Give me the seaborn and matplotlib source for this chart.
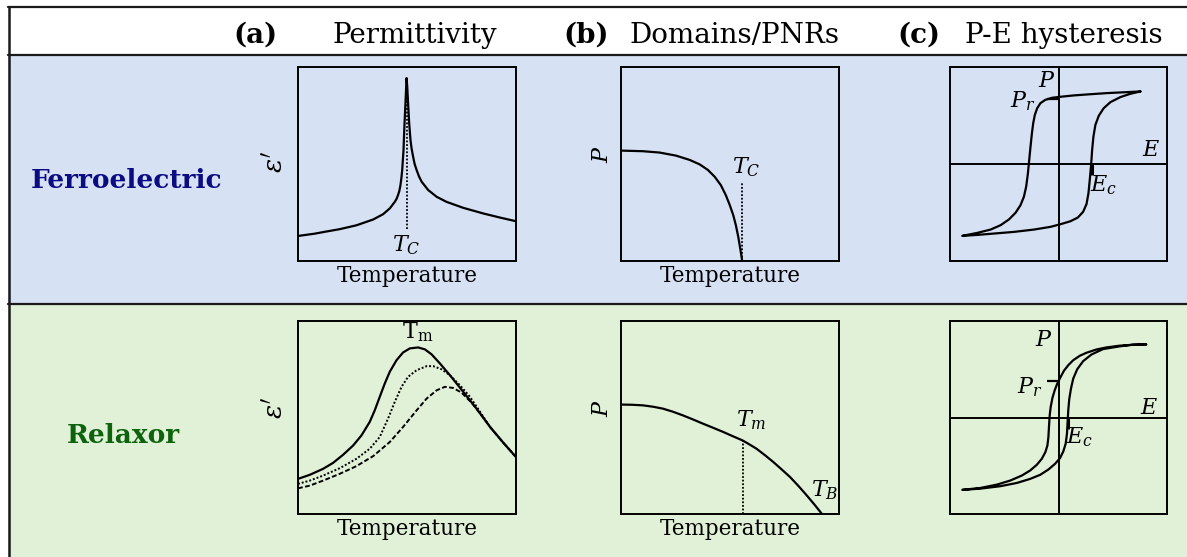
import matplotlib
matplotlib.use("Agg")
import matplotlib.pyplot as plt
from matplotlib.patches import Rectangle
from matplotlib.lines import Line2D
import seaborn as sns

sns.set_style("white")
plt.rcParams["font.family"] = ["DejaVu Serif"]
plt.rcParams["mathtext.fontset"] = "dejavuserif"
plt.rcParams["text.color"] = "black"
plt.rcParams["axes.labelcolor"] = "black"

# ---------------- data (normalised schematic coordinates) ----------------
row_labels = ["Ferroelectric", "Relaxor"]
col_tags = ["(a)", "(b)", "(c)"]
col_titles = ["Permittivity", "Domains/PNRs", "P-E hysteresis"]

# (a) ferroelectric: sharp permittivity peak at T_C
fe_eps_T = [0.0, 0.077, 0.13, 0.191, 0.268, 0.345, 0.39, 0.421, 0.444, 0.452,
            0.459, 0.465, 0.47, 0.474, 0.478, 0.484, 0.488, 0.493, 0.498, 0.501,
            0.505, 0.51, 0.516, 0.521, 0.528, 0.535, 0.544, 0.555, 0.567, 0.597,
            0.636, 0.681, 0.758, 0.85, 0.926, 1.0]
fe_eps = [0.129, 0.141, 0.152, 0.164, 0.184, 0.214, 0.241, 0.271, 0.305, 0.32,
          0.34, 0.362, 0.391, 0.425, 0.469, 0.572, 0.693, 0.814, 0.943, 0.9,
          0.814, 0.71, 0.624, 0.58, 0.538, 0.5, 0.469, 0.436, 0.409, 0.366,
          0.331, 0.305, 0.274, 0.245, 0.224, 0.205]
fe_TC = 0.498
fe_TC_line = [0.167, 0.943]

# (a) relaxor: broad, frequency dispersive maxima (three frequencies)
rx_eps_T1 = [0.0, 0.054, 0.115, 0.161, 0.207, 0.253, 0.291, 0.329, 0.352, 0.375,
             0.398, 0.421, 0.452, 0.482, 0.513, 0.551, 0.582, 0.613, 0.651, 0.697,
             0.758, 0.819, 0.881, 0.942, 1.0]
rx_eps_1 = [0.182, 0.203, 0.234, 0.265, 0.307, 0.355, 0.407, 0.477, 0.537, 0.607,
            0.676, 0.737, 0.797, 0.837, 0.858, 0.863, 0.853, 0.827, 0.78, 0.719,
            0.633, 0.546, 0.451, 0.369, 0.295]
rx_eps_T2 = [0.0, 0.054, 0.115, 0.191, 0.268, 0.329, 0.375, 0.413, 0.444, 0.475,
             0.505, 0.544, 0.59, 0.62, 0.658, 0.697, 0.743, 0.789, 0.835, 0.881,
             0.942, 1.0]
rx_eps_2 = [0.156, 0.173, 0.199, 0.237, 0.286, 0.338, 0.399, 0.494, 0.581, 0.659,
            0.711, 0.745, 0.766, 0.766, 0.75, 0.719, 0.667, 0.607, 0.53, 0.451,
            0.369, 0.295]
rx_eps_T3 = [0.0, 0.054, 0.115, 0.191, 0.268, 0.345, 0.421, 0.482, 0.544, 0.59,
             0.636, 0.674, 0.712, 0.75, 0.796, 0.842, 0.881, 0.942, 1.0]
rx_eps_3 = [0.133, 0.147, 0.173, 0.208, 0.248, 0.3, 0.373, 0.451, 0.537, 0.598,
            0.641, 0.659, 0.653, 0.629, 0.577, 0.511, 0.451, 0.369, 0.295]
rx_Tm_peak = 0.551

# (b) ferroelectric: polarisation vanishing at T_C
fe_P_T = [0.0, 0.1, 0.177, 0.253, 0.315, 0.361, 0.399, 0.43, 0.458, 0.481, 0.499,
          0.515, 0.527, 0.538, 0.547, 0.556]
fe_P = [0.569, 0.566, 0.559, 0.543, 0.521, 0.498, 0.469, 0.434, 0.391, 0.339, 0.288,
        0.236, 0.184, 0.124, 0.064, 0.0]
fe_P_TC = 0.556
fe_P_TC_top = 0.4

# (b) relaxor: PNR polarisation decaying up to the Burns temperature
rx_P_T = [0.0, 0.05, 0.1, 0.146, 0.192, 0.238, 0.284, 0.33, 0.376, 0.422,
          0.469, 0.513, 0.558, 0.59, 0.622, 0.66, 0.699, 0.737, 0.776, 0.815,
          0.853, 0.888, 0.922]
rx_P = [0.567, 0.566, 0.563, 0.556, 0.546, 0.53, 0.511, 0.49, 0.468, 0.447,
        0.425, 0.403, 0.381, 0.36, 0.338, 0.305, 0.269, 0.231, 0.191, 0.144,
        0.095, 0.048, 0.0]
rx_P_Tm = 0.558
rx_P_Tm_top = 0.381

# (c) ferroelectric: square P-E loop (descending branch, then ascending branch)
fe_loop_E = [0.755, 0.632, 0.448, 0.264, 0.141, 0.018, -0.058, -0.12, -0.166, -0.196,
             -0.218, -0.233, -0.245, -0.258, -0.27, -0.282, -0.298, -0.319, -0.35,
             -0.396, -0.457, -0.534, -0.626, -0.748, -0.887,
             -0.748, -0.595, -0.411, -0.227, -0.074, 0.018, 0.11, 0.178, 0.227, 0.258,
             0.276, 0.288, 0.301, 0.31, 0.322, 0.34, 0.371, 0.417, 0.479, 0.571,
             0.663, 0.755]
fe_loop_P = [0.748, 0.741, 0.731, 0.717, 0.707, 0.693, 0.683, 0.662, 0.628, 0.576,
             0.507, 0.421, 0.317, 0.179, 0.041, -0.097, -0.234, -0.338, -0.424,
             -0.503, -0.572, -0.631, -0.676, -0.71, -0.741,
             -0.731, -0.717, -0.7, -0.676, -0.648, -0.621, -0.59, -0.552, -0.493,
             -0.414, -0.303, -0.166, -0.003, 0.145, 0.283, 0.403, 0.497, 0.576,
             0.638, 0.69, 0.724, 0.748]
fe_Pr = 0.672
fe_Ec = 0.31

# (c) relaxor: slim P-E loop
rx_loop_E = [0.808, 0.685, 0.563, 0.441, 0.35, 0.258, 0.197, 0.136, 0.09, 0.05, 0.02,
             -0.011, -0.035, -0.056, -0.072, -0.081, -0.087, -0.093, -0.102, -0.121,
             -0.154, -0.2, -0.261, -0.337, -0.444, -0.566, -0.719, -0.887,
             -0.719, -0.536, -0.383, -0.261, -0.169, -0.093, -0.032, 0.014, 0.044,
             0.066, 0.078, 0.084, 0.09, 0.099, 0.115, 0.136, 0.173, 0.227, 0.304,
             0.411, 0.563, 0.685, 0.808]
rx_loop_P = [0.757, 0.754, 0.744, 0.726, 0.705, 0.671, 0.64, 0.594, 0.542, 0.484, 0.421,
             0.352, 0.282, 0.203, 0.109, 0.023, -0.081, -0.203, -0.289, -0.359,
             -0.428, -0.49, -0.549, -0.601, -0.653, -0.695, -0.73, -0.75,
             -0.737, -0.712, -0.678, -0.636, -0.594, -0.539, -0.48, -0.421, -0.352,
             -0.272, -0.168, -0.047, 0.075, 0.189, 0.3, 0.404, 0.501, 0.584, 0.653,
             0.709, 0.737, 0.754, 0.757]
rx_Pr = 0.38
rx_Ec = 0.084

# ---------------- layout ----------------
W, H = 1187, 557
fig = plt.figure(figsize=(W / 100, H / 100), dpi=100)
fig.patch.set_facecolor("white")


def fx(px):
    return px / W


def fy(py):
    return 1 - py / H


BLUE_BG = "#d6e1f3"
GREEN_BG = "#e1f1d8"
LINE = "#1a1a1a"

# background bands
fig.add_artist(Rectangle((fx(8), fy(304)), 1, (304 - 55) / H, transform=fig.transFigure,
                         facecolor=BLUE_BG, edgecolor="none", zorder=0))
fig.add_artist(Rectangle((fx(8), 0), 1, fy(304), transform=fig.transFigure,
                         facecolor=GREEN_BG, edgecolor="none", zorder=0))
# frame lines
for y in (7, 55, 304):
    fig.add_artist(Line2D([fx(8), 1.0], [fy(y), fy(y)], transform=fig.transFigure,
                          color=LINE, lw=1.6, zorder=1))
fig.add_artist(Line2D([fx(8.5), fx(8.5)], [0, fy(7)], transform=fig.transFigure,
                      color=LINE, lw=1.8, zorder=1))

# column headers
tag_x = [255, 586, 919]
title_x = [415, 734, 1064]
for tag, title, tx, tt in zip(col_tags, col_titles, tag_x, title_x):
    fig.text(fx(tx), fy(43), tag, ha="center", va="baseline", fontsize=20,
             fontweight="bold")
    fig.text(fx(tt), fy(43), title, ha="center", va="baseline", fontsize=20)

# row labels
fig.text(fx(127), fy(188), row_labels[0], ha="center", va="baseline", fontsize=19,
         fontweight="bold", color="#0b0b84")
fig.text(fx(123), fy(443), row_labels[1], ha="center", va="baseline", fontsize=19,
         fontweight="bold", color="#0c630c")

col_left = [298, 621, 950]
col_w = [218, 218, 217]
row_tb = [(67, 261), (321, 514)]

axes = {}
for r, (top, bot) in enumerate(row_tb):
    for c in range(3):
        ax = fig.add_axes([fx(col_left[c]), fy(bot), col_w[c] / W, (bot - top) / H])
        ax.set_facecolor("none")
        for s in ax.spines.values():
            s.set_visible(True)
            s.set_color("black")
            s.set_linewidth(1.4)
        ax.set_xticks([])
        ax.set_yticks([])
        if c < 2:
            ax.set_xlim(0, 1)
            ax.set_ylim(0, 1)
            ax.set_xlabel("Temperature", fontsize=15.5, labelpad=3)
        else:
            ax.set_xlim(-1, 1)
            ax.set_ylim(-1, 1)
            ax.axhline(0, color="black", lw=1.4)
            ax.axvline(0, color="black", lw=1.4)
        axes[(r, c)] = ax

LW = 1.6
kw = dict(color="black", sort=False, estimator=None, legend=False)

# (a) permittivity
ax = axes[(0, 0)]
sns.lineplot(x=fe_eps_T, y=fe_eps, ax=ax, lw=LW, **kw)
ax.vlines(fe_TC, fe_TC_line[0], fe_TC_line[1], colors="black", lw=1.3,
          linestyles=(0, (1, 1)))
ax.text(fe_TC, 0.08, r"$T_C$", ha="center", va="center", fontsize=16)
ax.text(-22 / 218, 0.51, r"$\varepsilon'$", rotation=90, transform=ax.transAxes,
        ha="center", va="center", fontsize=19)

ax = axes[(1, 0)]
sns.lineplot(x=rx_eps_T1, y=rx_eps_1, ax=ax, lw=LW, **kw)
sns.lineplot(x=rx_eps_T2, y=rx_eps_2, ax=ax, lw=1.4, linestyle=(0, (1, 1)), **kw)
sns.lineplot(x=rx_eps_T3, y=rx_eps_3, ax=ax, lw=1.4, linestyle=(0, (2.5, 1.2)), **kw)
ax.text(rx_Tm_peak, 0.94, r"$\mathrm{T_m}$", ha="center", va="center", fontsize=16)
ax.text(-22 / 218, 0.55, r"$\varepsilon'$", rotation=90, transform=ax.transAxes,
        ha="center", va="center", fontsize=19)

# (b) polarisation vs temperature
ax = axes[(0, 1)]
sns.lineplot(x=fe_P_T, y=fe_P, ax=ax, lw=LW, **kw)
ax.vlines(fe_P_TC, 0, fe_P_TC_top, colors="black", lw=1.3, linestyles=(0, (1, 1)))
ax.text(0.576, 0.486, r"$T_C$", ha="center", va="center", fontsize=16)
ax.text(-19 / 218, 0.55, r"$P$", rotation=90, transform=ax.transAxes,
        ha="center", va="center", fontsize=16)

ax = axes[(1, 1)]
sns.lineplot(x=rx_P_T, y=rx_P, ax=ax, lw=LW, **kw)
ax.vlines(rx_P_Tm, 0, rx_P_Tm_top, colors="black", lw=1.3, linestyles=(0, (1, 1)))
ax.text(0.599, 0.485, r"$T_m$", ha="center", va="center", fontsize=16)
ax.text(0.937, 0.121, r"$T_B$", ha="center", va="center", fontsize=16)
ax.text(-19 / 218, 0.55, r"$P$", rotation=90, transform=ax.transAxes,
        ha="center", va="center", fontsize=16)

# (c) hysteresis loops
ax = axes[(0, 2)]
sns.lineplot(x=fe_loop_E, y=fe_loop_P, ax=ax, lw=LW, **kw)
ax.hlines(fe_Pr, -0.104, 0.0, colors="black", lw=1.6)
ax.vlines(fe_Ec, -0.114, 0.0, colors="black", lw=2.2)
ax.text(-0.11, 0.852, r"$P$", ha="center", va="center", fontsize=16)
ax.text(-0.334, 0.645, r"$P_r$", ha="center", va="center", fontsize=16)
ax.text(0.856, 0.145, r"$E$", ha="center", va="center", fontsize=16)
ax.text(0.417, -0.217, r"$E_c$", ha="center", va="center", fontsize=16)

ax = axes[(1, 2)]
sns.lineplot(x=rx_loop_E, y=rx_loop_P, ax=ax, lw=LW, **kw)
ax.hlines(rx_Pr, -0.102, 0.0, colors="black", lw=1.6)
ax.vlines(rx_Ec, -0.116, 0.0, colors="black", lw=2.2)
ax.text(-0.139, 0.802, r"$P$", ha="center", va="center", fontsize=16)
ax.text(-0.261, 0.317, r"$P_r$", ha="center", va="center", fontsize=16)
ax.text(0.832, 0.099, r"$E$", ha="center", va="center", fontsize=16)
ax.text(0.197, -0.203, r"$E_c$", ha="center", va="center", fontsize=16)

fig.savefig("out.png", dpi=100, facecolor="white")
